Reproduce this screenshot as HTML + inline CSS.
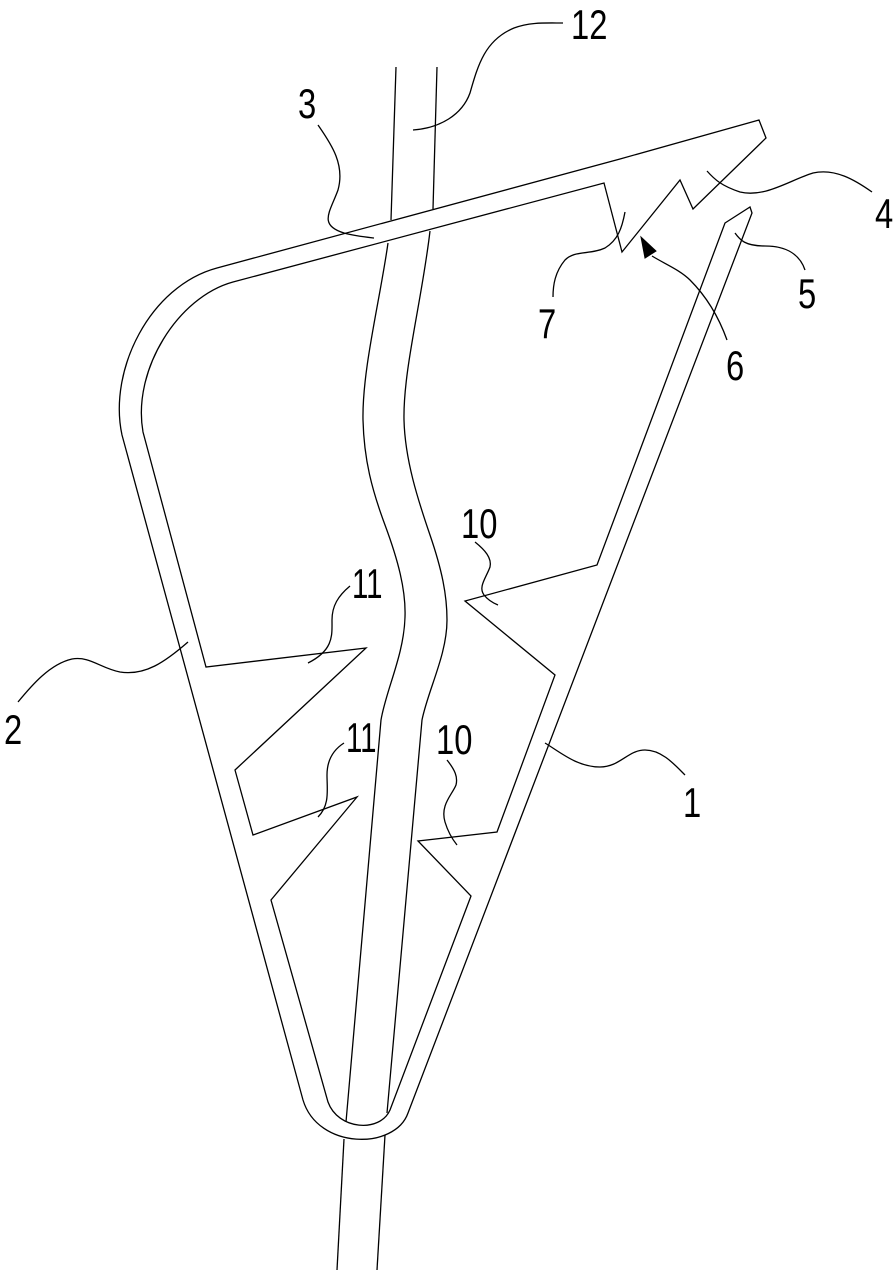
<!DOCTYPE html>
<html><head><meta charset="utf-8"><style>
html,body{margin:0;padding:0;background:#fff;}
svg{display:block;}
text{font-family:"Liberation Sans",sans-serif;font-size:42px;fill:#000;}
</style></head><body>
<svg width="896" height="1272" viewBox="0 0 896 1272" xmlns="http://www.w3.org/2000/svg">
<g fill="none" stroke="#000" stroke-width="1.3" stroke-linejoin="miter">
<path d="M759,120 L620,159 L217,268 C150,286 108,370 122,435 L303,1100 C318,1150 395,1150 408,1113 L752,213 L750,207 L725,223 L597,565 L465,601 L555,675 L497,832 L418,841 L471,896 L390,1110 C380,1133 338,1130 328,1102 L271,900 L357,797 L253,835 L235,770 L366,648 L206,667 L143,432 C132,370 178,297 233,282 L604,183 L622,252 L680,180 L693,209 L766,138 Z"/>
<path d="M396,67 L391,220"/>
<path d="M388,243 C380,300 362,370 363,420 C364,460 372,490 385,525 C398,560 406,590 405,617 C404,655 386,690 381,720 L346,1122"/>
<path d="M344,1139 L337,1270"/>
<path d="M437,67 L433,209"/>
<path d="M430,231 C422,300 403,370 404,420 C405,460 418,500 430,535 C442,570 447,595 447,620 C447,655 428,690 422,720 L387,1113"/>
<path d="M385,1135 L377,1270"/>
<path d="M413,130 C440,128 462,115 470,93 C478,65 485,40 514,28 C530,22 545,23 563,23"/>
<path d="M318,125 C332,145 345,165 338,190 C330,212 318,225 344,233 C355,236 365,237 374,238"/>
<path d="M707,171 C715,180 722,186 740,192 C765,198 790,180 813,173 C835,168 855,180 872,192"/>
<path d="M735,233 C740,240 745,246 765,246 C787,246 800,255 805,270"/>
<path d="M652,256 C665,264 680,270 690,280 C705,295 718,315 727,340"/>
<path d="M625,212 C622,228 618,240 605,248 C590,255 575,250 565,260 C555,272 553,285 553,297"/>
<path d="M475,542 C485,550 492,558 490,567 C486,578 478,587 484,595 C488,600 493,603 498,605"/>
<path d="M350,586 C338,596 332,606 332,620 C332,635 334,650 308,663"/>
<path d="M344,743 C333,750 327,760 327,775 C327,790 330,805 318,817"/>
<path d="M447,760 C455,770 458,777 456,785 C452,795 440,805 445,822 C448,832 453,840 457,845"/>
<path d="M188,642 C165,662 145,676 120,672 C100,668 90,656 72,659 C50,664 32,685 18,702"/>
<path d="M545,743 C560,752 577,767 600,767 C620,767 628,750 645,750 C662,750 675,765 685,775"/>
</g>
<path d="M641,237 L645,258 L656,251 Z" fill="#000" stroke="#000" stroke-width="1"/>
<g>
<text transform="translate(571,39) scale(0.78,1)">12</text>
<text transform="translate(298,118) scale(0.78,1)">3</text>
<text transform="translate(875,228) scale(0.78,1)">4</text>
<text transform="translate(798,308) scale(0.78,1)">5</text>
<text transform="translate(726,380) scale(0.78,1)">6</text>
<text transform="translate(538,338) scale(0.78,1)">7</text>
<text transform="translate(461,538) scale(0.78,1)">10</text>
<text transform="translate(352,598) scale(0.7,1)">11</text>
<text transform="translate(346,752) scale(0.7,1)">11</text>
<text transform="translate(436,754) scale(0.78,1)">10</text>
<text transform="translate(4,744) scale(0.78,1)">2</text>
<text transform="translate(683,817) scale(0.78,1)">1</text>
</g>
</svg>
</body></html>
